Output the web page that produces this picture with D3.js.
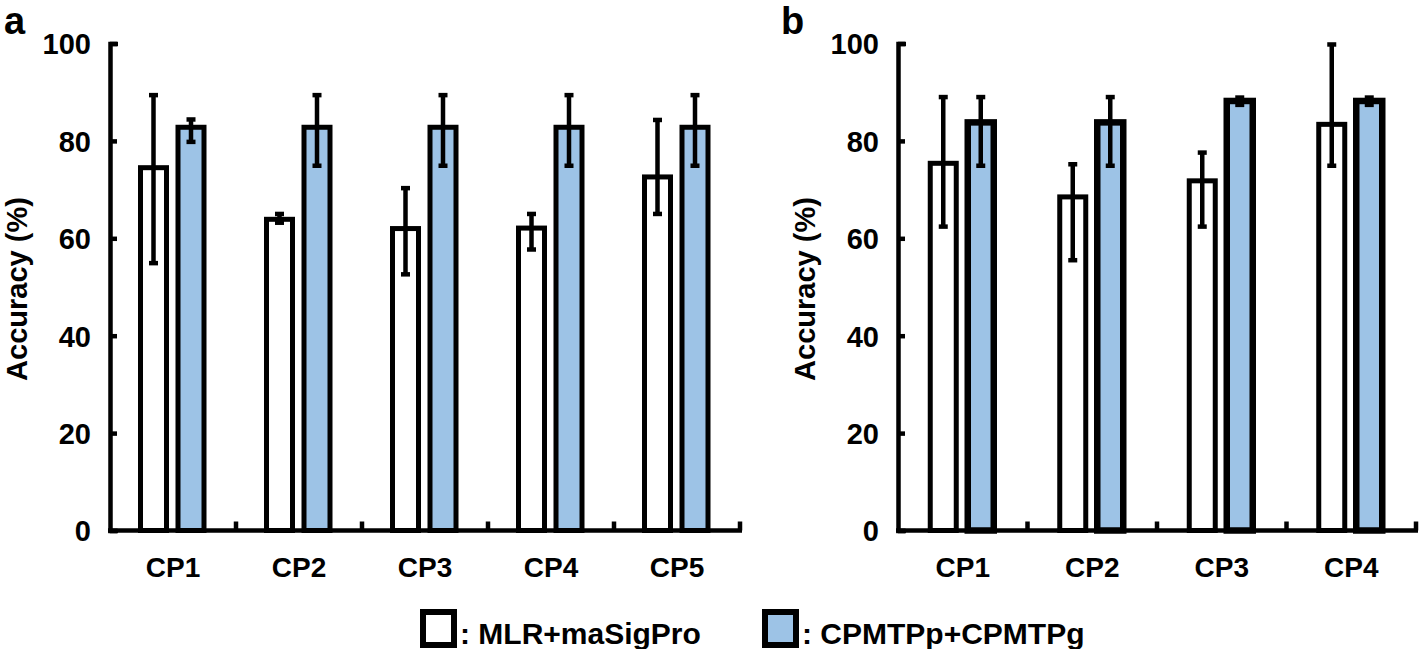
<!DOCTYPE html>
<html>
<head>
<meta charset="utf-8">
<script src="https://cdn.jsdelivr.net/npm/d3@7"></script>
<style>
  body { margin: 0; background: #fff; }
  svg text { font-family: "Liberation Sans", Arial, sans-serif; font-weight: bold; fill: #000; }
</style>
</head>
<body>
<svg width="1424" height="649"></svg>
<script>
// panel a
const catsA = ["CP1", "CP2", "CP3", "CP4", "CP5"];
const mlrA = [74.5, 63.9, 62.0, 62.1, 72.6];
const mlrLoA = [54.9, 63.2, 52.6, 57.7, 65.0];
const mlrHiA = [89.4, 65.0, 70.3, 65.0, 84.3];
const cpmA = [82.8, 82.8, 82.8, 82.8, 82.8];
const cpmLoA = [79.8, 74.9, 74.9, 74.9, 74.9];
const cpmHiA = [84.4, 89.4, 89.4, 89.4, 89.4];

// panel b
const catsB = ["CP1", "CP2", "CP3", "CP4"];
const mlrB = [75.4, 68.5, 71.8, 83.4];
const mlrLoB = [62.4, 55.5, 62.4, 74.9];
const mlrHiB = [89.0, 75.2, 77.6, 99.8];
const cpmB = [83.8, 83.8, 88.2, 88.2];
const cpmLoB = [74.9, 74.9, 87.4, 87.4];
const cpmHiB = [89.0, 89.0, 88.9, 88.9];

const yTicks = [0, 20, 40, 60, 80, 100];
const seriesNames = ["MLR+maSigPro", "CPMTPp+CPMTPg"];
const blue = "#9dc3e6";

const svg = d3.select("svg");

function drawPanel(opts) {
    const y = d3.scaleLinear().domain([0, 100]).range([530.5, 43.5]);
    const x = d3.scaleBand().domain(opts.cats).range([opts.x0, opts.x1]);
    const g = svg.append("g");

    // y axis
    const yAxis = d3.axisLeft(y)
        .tickValues(yTicks)
        .tickSizeInner(-7)
        .tickSizeOuter(-8)
        .tickPadding(19);
    const ya = g.append("g")
        .attr("transform", `translate(${opts.x0},0)`)
        .call(yAxis);
    ya.select(".domain").attr("stroke-width", 4.5).attr("stroke", "#000");
    ya.selectAll(".tick line").attr("stroke-width", 4.5).attr("stroke", "#000");
    ya.selectAll(".tick text")
        .style("font-size", "29px")
        .attr("dy", "0.36em");

    g.append("text")
        .attr("transform", `translate(${opts.x0 - 83},${y(50) + 2}) rotate(-90)`)
        .attr("text-anchor", "middle")
        .style("font-size", "29px")
        .text("Accuracy (%)");

    // bars
    const offW = -19.5, offB = 18, bw = 26;
    const cx = c => x(c) + x.bandwidth() / 2;

    opts.cats.forEach((c, i) => {
        const series = [
            {dx: offW, v: opts.mlr[i], lo: opts.mlrLo[i], hi: opts.mlrHi[i], fill: "#fff", sw: 5},
            {dx: offB, v: opts.cpm[i], lo: opts.cpmLo[i], hi: opts.cpmHi[i], fill: blue, sw: opts.blueStroke}
        ];
        series.forEach(s => {
            const xc = cx(c) + s.dx;
            g.append("rect")
                .attr("x", xc - bw / 2)
                .attr("y", y(s.v))
                .attr("width", bw)
                .attr("height", y(0) - y(s.v))
                .attr("fill", s.fill)
                .attr("stroke", "#000")
                .attr("stroke-width", s.sw);
            g.append("line")
                .attr("x1", xc).attr("x2", xc)
                .attr("y1", y(s.lo)).attr("y2", y(s.hi))
                .attr("stroke", "#000").attr("stroke-width", 4.5);
            [s.lo, s.hi].forEach(v => {
                g.append("line")
                    .attr("x1", xc - 4.5).attr("x2", xc + 4.5)
                    .attr("y1", y(v)).attr("y2", y(v))
                    .attr("stroke", "#000").attr("stroke-width", 4.5);
            });
        });
    });

    // x axis line with separator ticks
    g.append("line")
        .attr("x1", opts.x0 - 2).attr("x2", opts.x1 + 2)
        .attr("y1", y(0)).attr("y2", y(0))
        .attr("stroke", "#000").attr("stroke-width", 4.5);
    const seps = opts.cats.slice(1).map(c => x(c)).concat([opts.x1]);
    g.selectAll(".sep").data(seps).enter().append("line")
        .attr("x1", d => d).attr("x2", d => d)
        .attr("y1", y(0)).attr("y2", y(0) - 9)
        .attr("stroke", "#000").attr("stroke-width", 4.5);

    g.selectAll(".cat").data(opts.cats).enter().append("text")
        .attr("x", d => cx(d))
        .attr("y", 577)
        .attr("text-anchor", "middle")
        .style("font-size", "28px")
        .text(d => d);

    g.append("text")
        .attr("x", opts.labelX)
        .attr("y", 34)
        .style("font-size", "38px")
        .text(opts.label);
}

drawPanel({cats: catsA, mlr: mlrA, mlrLo: mlrLoA, mlrHi: mlrHiA,
    cpm: cpmA, cpmLo: cpmLoA, cpmHi: cpmHiA,
    x0: 110, x1: 740, blueStroke: 5, label: "a", labelX: 4});

drawPanel({cats: catsB, mlr: mlrB, mlrLo: mlrLoB, mlrHi: mlrHiB,
    cpm: cpmB, cpmLo: cpmLoB, cpmHi: cpmHiB,
    x0: 898, x1: 1416, blueStroke: 6.5, label: "b", labelX: 781});

// legend
const legend = svg.append("g");
const legendItems = [
    {name: seriesNames[0], fill: "#fff", x: 423},
    {name: seriesNames[1], fill: blue, x: 765}
];
legendItems.forEach(d => {
    legend.append("rect")
        .attr("x", d.x).attr("y", 612)
        .attr("width", 31).attr("height", 33)
        .attr("fill", d.fill)
        .attr("stroke", "#000").attr("stroke-width", 6);
    legend.append("text")
        .attr("x", d.x + 37).attr("y", 644)
        .style("font-size", "30px")
        .text(": " + d.name);
});
</script>
</body>
</html>
